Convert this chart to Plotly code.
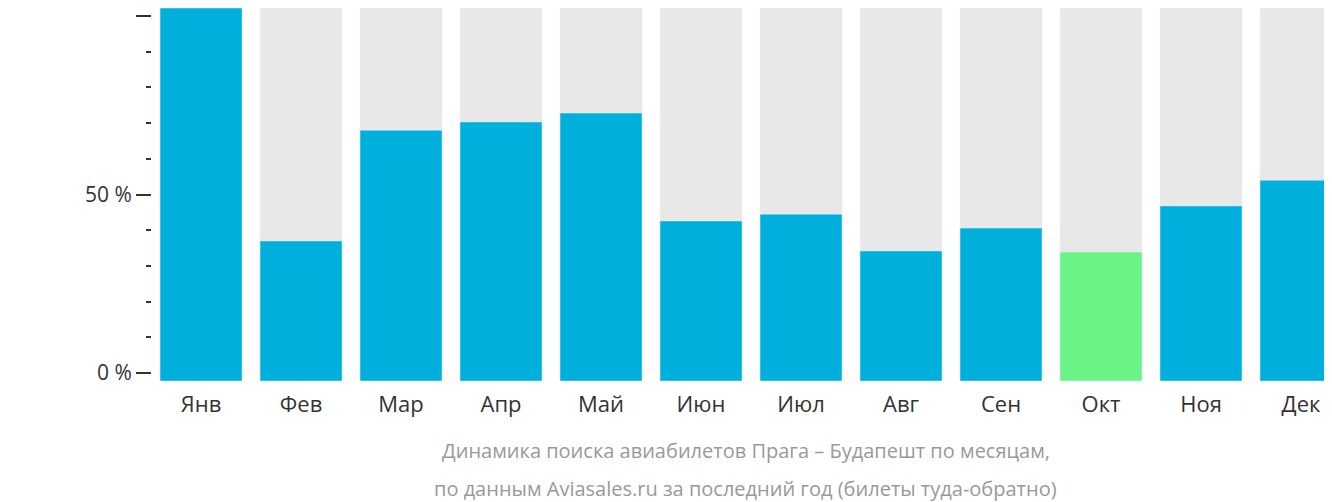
import plotly.graph_objects as go

months = ["Янв","Фев","Мар","Апр","Май","Июн","Июл","Авг","Сен","Окт","Ноя","Дек"]
values = [102.2, 37.0, 68.0, 70.3, 72.8, 42.6, 44.5, 34.2, 40.6, 33.9, 46.8, 54.0]
colors = ["#00b0dc"]*9 + ["#6cf388"] + ["#00b0dc"]*2
base = -2.2
top = 102.2
title_lines = ["Динамика поиска авиабилетов Прага – Будапешт по месяцам,",
               "по данным Aviasales.ru за последний год (билеты туда-обратно)"]

fig = go.Figure()
fig.add_bar(x=months, y=[top-base]*12, base=base, marker_color="#e8e8e8",
            width=0.82, hoverinfo="skip")
fig.add_bar(x=months, y=[v-base for v in values], base=base, marker_color=colors,
            width=0.82)
fig.update_layout(
    barmode="overlay", width=1332, height=502, showlegend=False,
    margin=dict(l=143, r=0, t=0, b=129, autoexpand=False),
    plot_bgcolor="white", paper_bgcolor="white",
    font=dict(family="Open Sans", color="#333"),
    xaxis=dict(domain=[0.0076, 1], range=[-0.41, 11.39], showgrid=False, automargin=False,
               tickfont=dict(size=22), ticks="", ticklabelstandoff=8),
    yaxis=dict(anchor="free", position=0, range=[base, top], showgrid=False, automargin=False,
               zeroline=False, tickvals=[0, 50, 100], ticktext=["0 %", "50 %", "100 %"],
               ticks="outside", ticklen=15, tickcolor="#333", tickwidth=2,
               tickfont=dict(size=21),
               minor=dict(tickvals=[10,20,30,40,60,70,80,90], ticks="outside",
                          ticklen=5, tickcolor="#333", tickwidth=2)),
    annotations=[dict(text=t, xref="paper", yref="paper", x=0.5, y=yy, yanchor="middle",
                      showarrow=False, font=dict(size=20, color="#999"))
                 for t, yy in zip(title_lines, [(502-129-443)/373, (502-129-480)/373])]
)
fig.write_html("out.html")
